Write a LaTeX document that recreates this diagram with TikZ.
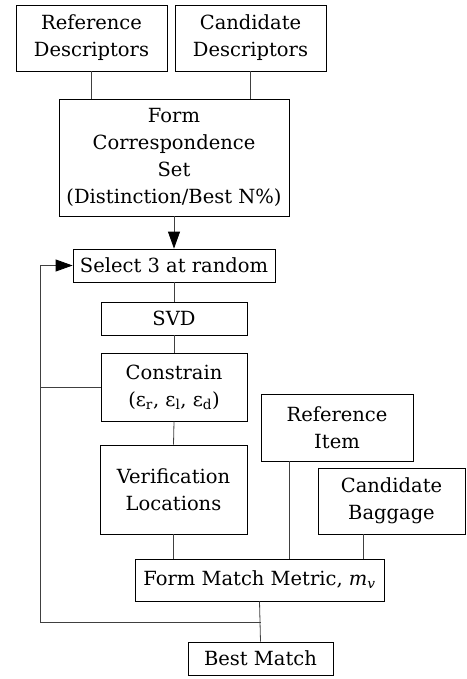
\documentclass[tikz,border=0pt]{standalone}
\usepackage{fontspec}
\setmainfont{DejaVu Serif}
\usetikzlibrary{arrows.meta, calc}
\tikzset{
  blk/.style = {draw, line width = 0.8pt, align = center, inner sep = 0pt},
  wire/.style = {draw = black!75, line width = 0.8pt},
  flow/.style = {wire, -{Triangle[length = 17pt, width = 12pt, black]}}
}

\begin{document}
\begin{tikzpicture}[x = 1pt, y = -1pt]
\fontsize{19.5}{27}\selectfont
\useasboundingbox (0, 0) rectangle (466, 679);

\node (refdesc) [blk, minimum width = 151pt, minimum height = 66pt] at (91.5, 38) {Reference\\Descriptors};
\node (canddesc) [blk, minimum width = 151pt, minimum height = 66pt] at (250.5, 38) {Candidate\\Descriptors};
\node (corrset) [blk, minimum width = 230pt, minimum height = 117pt] at (174, 157.5) {Form\\Correspondence\\Set\\(Distinction/Best N\%)};

\draw[wire] (refdesc.south) -- (refdesc.south |- corrset.north);
\draw[wire] (canddesc.south) -- (canddesc.south |- corrset.north);

\node (select) [blk, minimum width = 202pt, minimum height = 33pt] at (174, 265.5) {Select 3 at random};
\node (svd) [blk, minimum width = 146pt, minimum height = 33pt] at (174, 318.5) {SVD};
\node (constrain) [blk, minimum width = 146pt, minimum height = 68pt] at (174, 387) {Constrain\\(ε\textsubscript{r}, ε\textsubscript{l}, ε\textsubscript{d})};
\node (verif) [blk, minimum width = 147pt, minimum height = 89pt] at (173.5, 489.5) {Verification\\Locations};

\draw[flow] (corrset.south) -- (select.north);
\draw[wire] (select.south) -- (svd.north);
\draw[wire] (svd.south) -- (constrain.north);
\draw[wire] (constrain.south) -- (verif.north);

\node (refitem) [blk, minimum width = 152pt, minimum height = 67pt] at (337, 427.5) {Reference\\Item};
\node (candbag) [blk, minimum width = 147pt, minimum height = 66pt] at (391.5, 501) {Candidate\\Baggage};
\node (metric) [blk, minimum width = 249pt, minimum height = 42pt] at (259.5, 580) {Form Match Metric, \textit{m}\textsubscript{\textit{v}}};
\node (bestmatch) [blk, minimum width = 145pt, minimum height = 33pt] at (260.5, 658.5) {Best Match};

\draw[wire] (verif.south) -- (verif.south |- metric.north);
\draw[wire] ([xshift = -48pt] refitem.south) -- ([xshift = -48pt] refitem.south |- metric.north);
\draw[wire] ([xshift = -28.5pt] candbag.south) -- ([xshift = -28.5pt] candbag.south |- metric.north);
\draw[wire] (metric.south) -- (bestmatch.north);

% loop back to the random selection
\coordinate (loop) at (40, 622);
\draw[wire] (bestmatch.north |- loop) -- (loop) -- (loop |- select.west);
\draw[flow] (loop |- select.west) -- (select.west);
\draw[wire] (constrain.west) -- (constrain.west -| loop);

\end{tikzpicture}
\end{document}
